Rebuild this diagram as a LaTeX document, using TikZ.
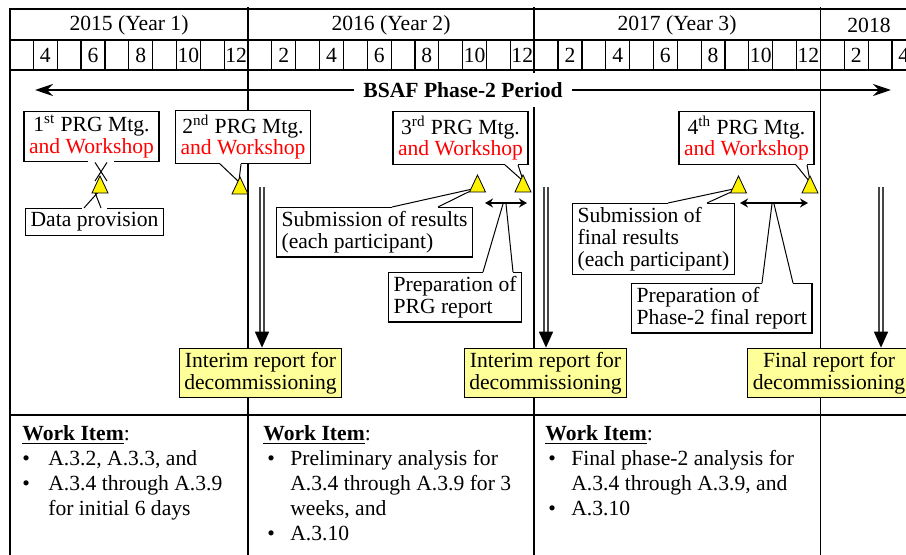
\documentclass[tikz,border=0pt]{standalone}
\usepackage{fontspec}
\setmainfont{Liberation Serif}
\usetikzlibrary{arrows.meta}
\definecolor{notefill}{HTML}{FFFF99}
\definecolor{ptred}{HTML}{FF0000}
\newcommand{\workhead}{\multicolumn{2}{@{}l@{}}{\underline{\textbf{Work Item}}:}}
\newcommand{\mtgtext}[1]{#1 PRG Mtg.\\\textcolor{ptred}{and Workshop}}
\begin{document}
\begin{tikzpicture}[x=0.5pt,y=-0.5pt,font=\fontsize{10.8}{10.8}\selectfont,
  frame/.style={line width=0.8pt},
  mtg/.style={draw,fill=white,line width=0.6pt,align=center,inner xsep=2.5pt,inner ysep=2pt},
  note/.style={draw,fill=white,line width=0.6pt,align=left,anchor=north west,inner xsep=2.5pt,inner ysep=2pt},
  report/.style={draw,fill=notefill,line width=0.6pt,align=center,inner xsep=2.5pt,inner ysep=2pt},
  work/.style={anchor=north west,inner sep=0pt,font=\fontsize{10.8}{12.6}\selectfont},
  gap/.style={draw=white,line width=1.4pt},
  ptr/.style={line width=0.5pt},
  milestone/.style={draw,fill=yellow,line width=0.4pt},
  period/.style={line width=1.3pt,{Stealth[length=9pt,width=6pt]}-{Stealth[length=9pt,width=6pt]}},
  prep/.style={line width=1pt,{Stealth[length=4pt,width=4.5pt]}-{Stealth[length=4pt,width=4.5pt]}},
  deliver/.style={double,double distance=1.2pt,line width=0.8pt,draw=gray!55!black,-{Triangle[length=8pt,width=7pt,black]}}]

\useasboundingbox (0,0) rectangle (906,555);
\clip (0,0) rectangle (906,555);

% time axis
\draw[frame] (10,555) -- (10,9) -- (920,9);
\draw[frame] (10,40) -- (920,40);
\draw[frame] (10,70) -- (920,70);
\draw[frame] (10,415) -- (920,415);
\foreach \k in {0,12,24}
  \draw[frame] (248+23.85*\k,7) -- (248+23.85*\k,555);
\foreach \k in {-10,...,27}{
  \draw[line width=0.6pt] (248+23.85*\k,40) -- (248+23.85*\k,70);
  \pgfmathtruncatemacro\mon{mod(\k+120,12)+1}
  \ifodd\mon\else
    \node (mon\k) at (248+23.85*\k+11.9,55) {\mon};
  \fi
}
\node (y15) at (129,25) {2015 (Year 1)};
\node (y16) at (391,25) {2016 (Year 2)};
\node (y17) at (677,25) {2017 (Year 3)};
\node (y18) at (869,25) {2018};

% phase-2 period
\coordinate (pl) at (35,90);
\coordinate (pr) at (891,90);
\draw[period] (pl) -- (pr) node[midway,fill=white,inner xsep=4.5pt,minimum height=17pt,
  font=\fontsize{10.8}{10.8}\selectfont\bfseries] (phase) {BSAF Phase-2 Period};

% milestones and arrows
\coordinate (t1) at (100,176);
\coordinate (t2) at (240,177);
\coordinate (t3a) at (477.5,175);
\coordinate (t3b) at (523,175);
\coordinate (t4a) at (738.5,176);
\coordinate (t4b) at (810,176);
\coordinate (a3l) at (485,203);
\coordinate (a3r) at (527,203);
\coordinate (a4l) at (740,203);
\coordinate (a4r) at (808,203);
\coordinate (g1) at (262,187);
\coordinate (g2) at (546,187);
\coordinate (g3) at (881,187);

% boxes
\node[mtg] (mtg1) at (91.5,136.5) {\mtgtext{1\textsuperscript{st}}};
\node[mtg] (mtg2) at (243,137) {\mtgtext{2\textsuperscript{nd}}};
\node[mtg] (mtg3) at (460.5,138) {\mtgtext{3\textsuperscript{rd}}};
\node[mtg] (mtg4) at (746.5,138) {\mtgtext{4\textsuperscript{th}}};
\node[mtg] (data) at (94.5,222) {Data provision};
\node[note] (sub1) at (276,207) {Submission of results\\(each participant)};
\node[note] (prep1) at (388,272) {Preparation of\\PRG report};
\node[note] (sub2) at (572,203) {Submission of\\final results\\(each participant)};
\node[note] (prep2) at (631,283) {Preparation of\\Phase-2 final report};
\node[report] (rep1) at (260.5,373) {Interim report for\\decommissioning};
\node[report] (rep2) at (545.5,373) {Interim report for\\decommissioning};
\node[report] (rep3) at (829,373) {Final report for\\decommissioning};

% callout pointers
\draw[gap] ([shift={(-3.5,0)}]mtg1.south) -- ([shift={(22.5,0)}]mtg1.south);
\draw[ptr] ([shift={(3.5,0)}]mtg1.south) -- ([shift={(7,5)}]t1);
\draw[ptr] ([shift={(15.5,0)}]mtg1.south) -- ([shift={(-5,5)}]t1);
\draw[gap] ([shift={(-12.5,0)}]data.north) -- ([shift={(12.5,0)}]data.north);
\draw[ptr] ([shift={(-10.5,0)}]data.north) -- ([shift={(0,14)}]t1);
\draw[ptr] ([shift={(6.5,0)}]data.north) -- ([shift={(-6,14)}]t1);
\draw[gap] ([shift={(-23,0)}]mtg2.south) -- ([shift={(-2,0)}]mtg2.south);
\draw[ptr] ([shift={(-23,0)}]mtg2.south) -- ([shift={(-1,5)}]t2);
\draw[ptr] ([shift={(-2,0)}]mtg2.south) -- ([shift={(-1,4)}]t2);
\draw[gap] ([shift={(44.5,0)}]mtg3.south) -- ([shift={(57.5,0)}]mtg3.south);
\draw[ptr] ([shift={(44.5,0)}]mtg3.south) -- ([shift={(-1,5)}]t3b);
\draw[ptr] ([shift={(57.5,0)}]mtg3.south) -- ([shift={(0,5)}]t3b);
\draw[gap] ([shift={(116,0)}]sub1.north west) -- ([shift={(162,0)}]sub1.north west);
\draw[ptr] ([shift={(116,0)}]sub1.north west) -- ([shift={(-5,14)}]t3a);
\draw[ptr] ([shift={(162,0)}]sub1.north west) -- ([shift={(-3,14)}]t3a);
\draw[gap] ([shift={(95,0)}]prep1.north west) -- ([shift={(125,0)}]prep1.north west);
\draw[ptr] ([shift={(95,0)}]prep1.north west) -- ([shift={(18,1)}]a3l);
\draw[ptr] ([shift={(125,0)}]prep1.north west) -- ([shift={(21,1)}]a3l);
\draw[gap] ([shift={(49.5,0)}]mtg4.south) -- ([shift={(60.5,0)}]mtg4.south);
\draw[ptr] ([shift={(49.5,0)}]mtg4.south) -- ([shift={(-1,5)}]t4b);
\draw[ptr] ([shift={(60.5,0)}]mtg4.south) -- ([shift={(0,5)}]t4b);
\draw[gap] ([shift={(96,0)}]sub2.north west) -- ([shift={(135,0)}]sub2.north west);
\draw[ptr] ([shift={(96,0)}]sub2.north west) -- ([shift={(-5,13)}]t4a);
\draw[ptr] ([shift={(135,0)}]sub2.north west) -- ([shift={(-3,14)}]t4a);
\draw[gap] ([shift={(131,0)}]prep2.north west) -- ([shift={(162,0)}]prep2.north west);
\draw[ptr] ([shift={(131,0)}]prep2.north west) -- ([shift={(32,1)}]a4l);
\draw[ptr] ([shift={(162,0)}]prep2.north west) -- ([shift={(34,1)}]a4l);

\foreach \t in {t1,t2,t3a,t3b,t4a,t4b}
  \draw[milestone] (\t) -- ++(8,17) -- ++(-16,0) -- cycle;
\draw[prep] (a3l) -- (a3r);
\draw[prep] (a4l) -- (a4r);
\draw[deliver] (g1) -- (g1 |- rep1.north);
\draw[deliver] (g2) -- (g2 |- rep2.north);
\draw[deliver] (g3) -- (g3 |- rep3.north);

% work items
\node[work] (wi1) at (22,422) {\begin{tabular}{@{}p{13pt}@{}l@{}}
  \workhead\\
  \textbullet & A.3.2, A.3.3, and\\
  \textbullet & A.3.4 through A.3.9\\
  & for initial 6 days
\end{tabular}};
\node[work] (wi2) at (263,422) {\begin{tabular}{@{\hspace{2pt}}p{11.5pt}@{}l@{}}
  \workhead\\
  \textbullet & Preliminary analysis for\\
  & A.3.4 through A.3.9 for 3\\
  & weeks, and\\
  \textbullet & A.3.10
\end{tabular}};
\node[work] (wi3) at (545,422) {\begin{tabular}{@{\hspace{1.5pt}}p{11.5pt}@{}l@{}}
  \workhead\\
  \textbullet & Final phase-2 analysis for\\
  & A.3.4 through A.3.9, and\\
  \textbullet & A.3.10
\end{tabular}};
\end{tikzpicture}
\end{document}
